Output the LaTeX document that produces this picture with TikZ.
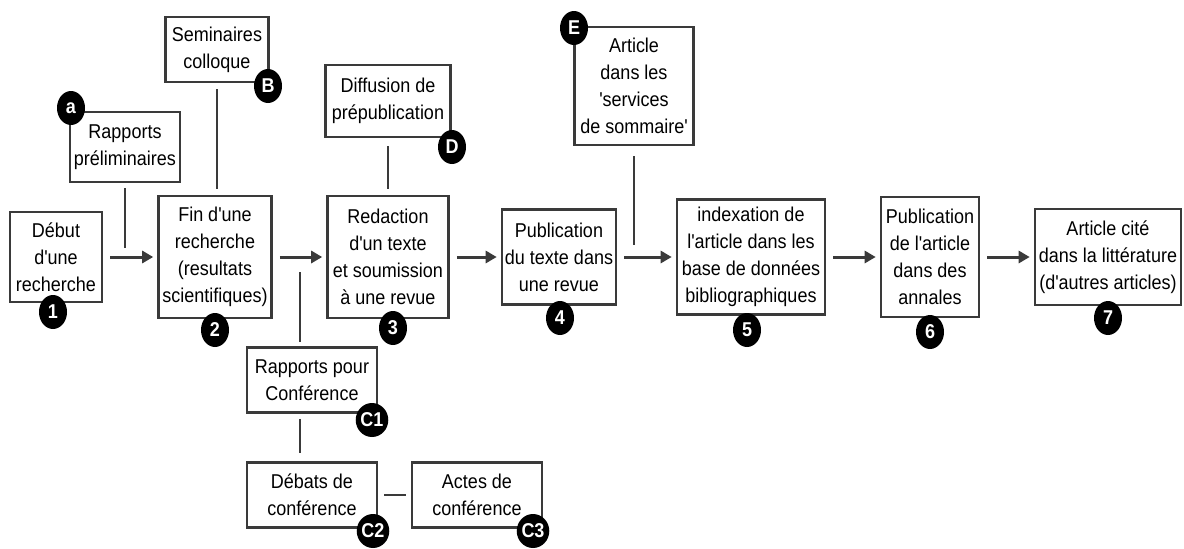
\documentclass[tikz,border=0pt]{standalone}
\usepackage{fontspec}
\setmainfont{Liberation Sans}[FakeStretch=0.9, Ligatures=TeXOff]
\usepackage{tikz}
\usetikzlibrary{arrows.meta,shapes,calc,positioning}
\definecolor{ink}{HTML}{3A3A3A}

\begin{document}
\begin{tikzpicture}[x=1pt, y=-1pt,
    box/.style = {draw=ink, line width=2.6pt, fill=white, align=center, inner sep=2pt,
                  font=\fontsize{20}{27}\selectfont},
    badge/.style = {ellipse, fill=black, text=white, inner sep=0pt,
                    minimum width=28pt, minimum height=34pt,
                    font=\bfseries\fontsize{20}{20}\selectfont},
    flow/.style = {draw=ink, line width=3pt, -{Triangle[length=11pt,width=12pt]},
                   shorten <=7pt, shorten >=4pt},
    link/.style = {draw=ink, line width=2.6pt}]
          \useasboundingbox (0,0) rectangle (1184,549);

          \node[box, minimum width=92pt,  minimum height=90pt]  at (56,257)   (debut)    {Début\\d'une\\recherche};
          \node[box, minimum width=110pt, minimum height=70pt]  at (125,147)  (prelim)   {Rapports\\préliminaires};
          \node[box, minimum width=103pt, minimum height=65pt]  at (217,49.5) (semin)    {Seminaires\\colloque};
          \node[box, minimum width=113pt, minimum height=122pt] at (215,257)  (fin)      {Fin d'une\\recherche\\(resultats\\scientifiques)};
          \node[box, minimum width=125pt, minimum height=72pt]  at (388,101)  (diffus)   {Diffusion de\\prépublication};
          \node[box, minimum width=121pt, minimum height=122pt] at (388,257)  (redac)    {Redaction\\d'un texte\\et soumission\\à une revue};
          \node[box, minimum width=114pt, minimum height=95pt]  at (559,257)  (pubtexte) {Publication\\du texte dans\\une revue};
          \node[box, minimum width=119pt, minimum height=118pt] at (634,86)   (artE)     {Article\\dans les\\'services\\de sommaire'};
          \node[box, minimum width=148pt, minimum height=115pt] at (751,257)  (index)    {indexation de\\l'article dans les\\base de données\\bibliographiques};
          \node[box, minimum width=98pt,  minimum height=120pt] at (930,257)  (pubart)   {Publication\\de l'article\\dans des\\annales};
          \node[box, minimum width=146pt, minimum height=96pt]  at (1108,257) (cite)     {Article cité\\dans la littérature\\(d'autres articles)};
          \node[box, minimum width=130pt, minimum height=65pt]  at (312,380)  (rapconf)  {Rapports pour\\Conférence};
          \node[box, minimum width=130pt, minimum height=65pt]  at (312,495)  (debats)   {Débats de\\conférence};
          \node[box, minimum width=130pt, minimum height=65pt]  at (477,495)  (actes)    {Actes de\\conférence};

          \coordinate (j1) at (125,248);
          \coordinate (j2) at (634,245);
          \coordinate (j3) at (300,272);

          \draw[flow] (debut) -- (fin);
          \draw[flow] (fin) -- (redac);
          \draw[flow] (redac) -- (pubtexte);
          \draw[flow] (pubtexte) -- (index);
          \draw[flow] (index) -- (pubart);
          \draw[flow] (pubart) -- (cite);

          \draw[link, shorten <=5pt] (prelim) -- (j1);
          \draw[link, shorten <=6pt, shorten >=6pt] (semin.south) -- (semin.south |- fin.north);
          \draw[link, shorten <=8pt, shorten >=6pt] (diffus) -- (redac);
          \draw[link, shorten <=10pt] (artE) -- (j2);
          \draw[link, shorten >=4pt] (j3) -- (j3 |- rapconf.north);
          \draw[link, shorten <=5pt, shorten >=8pt] (rapconf.south -| j3) -- (debats.north -| j3);
          \draw[link, shorten <=6pt, shorten >=5pt] (debats) -- (actes);

          \node[badge] at (71,108)   (ba)  {a};
          \node[badge] at (53,312)   (b1)  {1};
          \node[badge] at (268,86)   (bB)  {B};
          \node[badge] at (215,330)  (b2)  {2};
          \node[badge] at (452,147)  (bD)  {D};
          \node[badge] at (393,328)  (b3)  {3};
          \node[badge] at (560,318)  (b4)  {4};
          \node[badge] at (574,28)   (bE)  {E};
          \node[badge] at (747,330)  (b5)  {5};
          \node[badge] at (930,332)  (b6)  {6};
          \node[badge] at (1108,318) (b7)  {7};
          \node[badge] at (372,420)  (bC1) {C1};
          \node[badge] at (373,531)  (bC2) {C2};
          \node[badge] at (533,531)  (bC3) {C3};
        \end{tikzpicture}
\end{document}
